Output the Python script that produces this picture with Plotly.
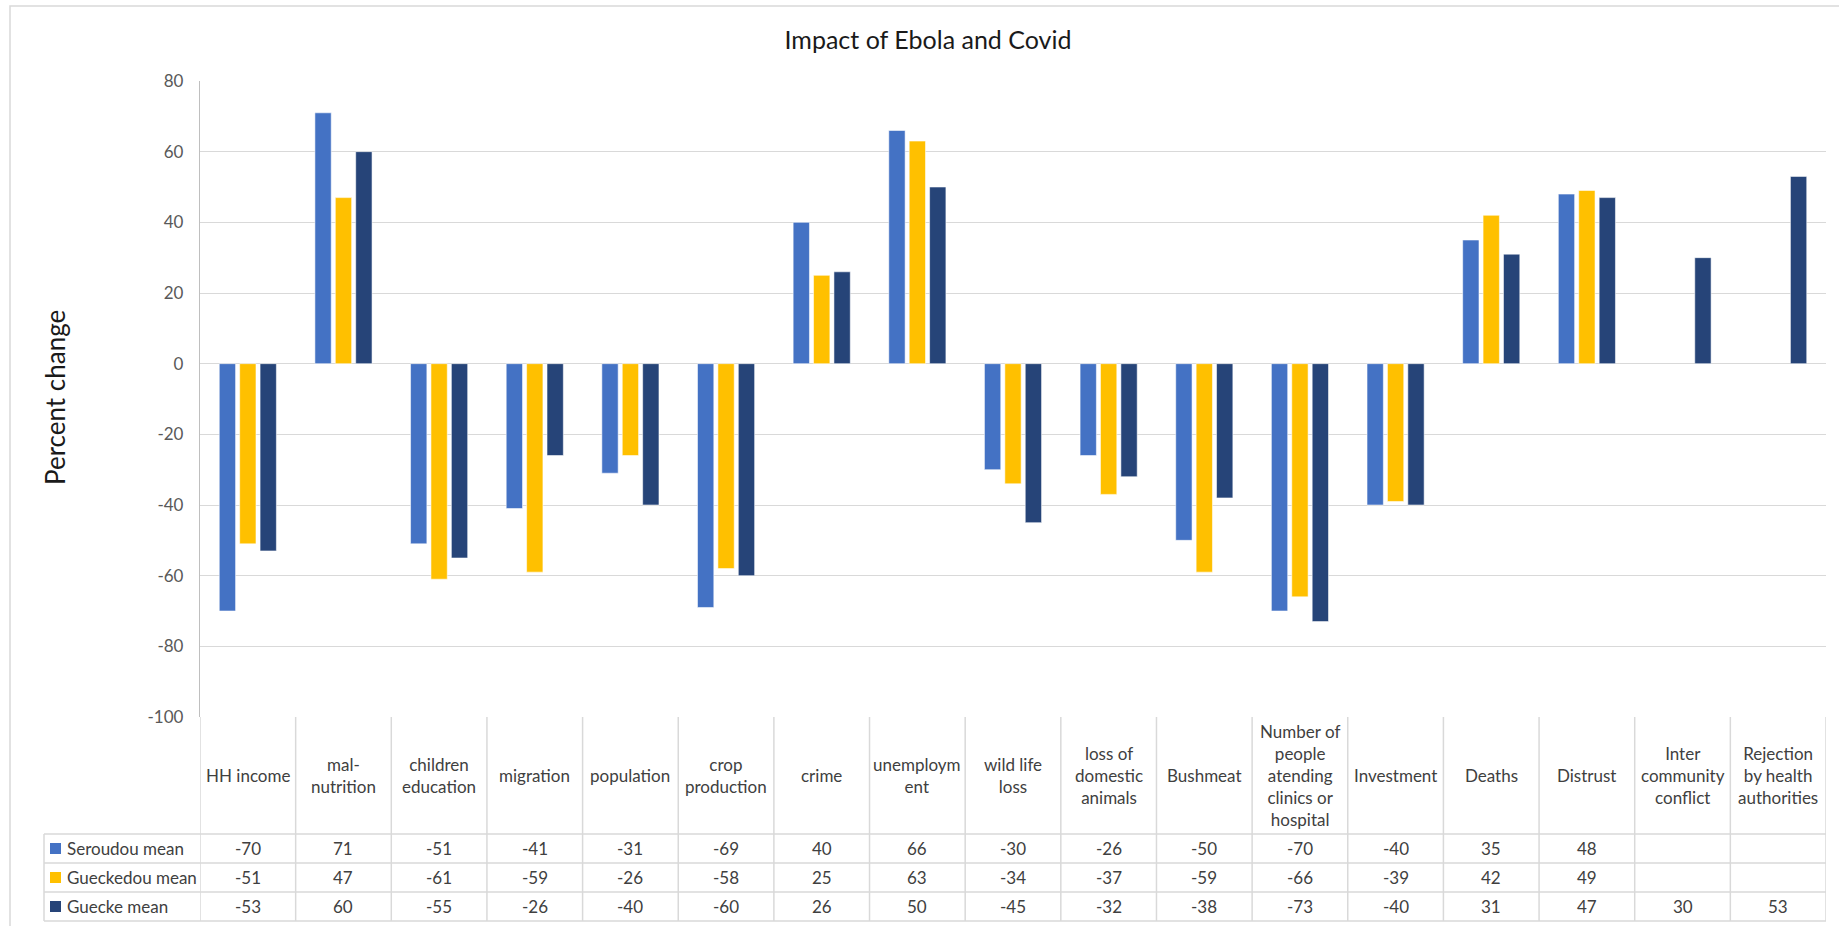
import plotly.graph_objects as go

# ---------------- data ----------------
categories = [
    "HH income", "mal-<br>nutrition", "children<br>education", "migration",
    "population", "crop<br>production", "crime", "unemploym<br>ent",
    "wild life<br>loss", "loss of<br>domestic<br>animals", "Bushmeat",
    "Number of<br>people<br>atending<br>clinics or<br>hospital", "Investment",
    "Deaths", "Distrust", "Inter<br>community<br>conflict",
    "Rejection<br>by health<br>authorities",
]
series_names = ["Seroudou mean", "Gueckedou mean", "Guecke mean"]
seroudou = [-70, 71, -51, -41, -31, -69, 40, 66, -30, -26, -50, -70, -40, 35, 48, None, None]
gueckedou = [-51, 47, -61, -59, -26, -58, 25, 63, -34, -37, -59, -66, -39, 42, 49, None, None]
guecke = [-53, 60, -55, -26, -40, -60, 26, 50, -45, -32, -38, -73, -40, 31, 47, 30, 53]
series_values = [seroudou, gueckedou, guecke]
series_colors = ["#4472C4", "#FFC000", "#264478"]
y_tickvals = [80, 60, 40, 20, 0, -20, -40, -60, -80, -100]
y_ticktext = ["80", "60", "40", "20", "0", "-20", "-40", "-60", "-80", "-100"]
title_text = "Impact of Ebola and Covid"
y_title = "Percent change"

# ---------------- layout geometry (pixels) ----------------
W, H = 1839, 926
PL, PR, PT, PB = 200, 1826, 81, 717          # plot area
TABLE_LEFT = 44
HEADER_BOTTOM = 834
ROW_LINES = [834, 863, 892, 921]
FONT = "Lato"
GRID = "#D9D9D9"
TXT = "#404040"


def px(X):
    return (X - PL) / (PR - PL)


def py(Y):
    return (PB - Y) / (PB - PT)


fig = go.Figure()
for name, vals, col in zip(series_names, series_values, series_colors):
    fig.add_trace(go.Bar(
        x=list(range(len(categories))), y=vals, name=name,
        marker=dict(color=col, line=dict(color="rgba(255,255,255,0.55)", width=1)),
        hoverinfo="y+name",
    ))

shapes = []
annotations = []
n = len(categories)

# vertical table lines at column boundaries
for i in range(n + 1):
    shapes.append(dict(type="line", xref="x", yref="paper", x0=i - 0.5, x1=i - 0.5,
                       y0=py(PB), y1=py(ROW_LINES[-1]), line=dict(color=GRID, width=1.5)))
# legend column left border
shapes.append(dict(type="line", xref="paper", yref="paper", x0=px(TABLE_LEFT), x1=px(TABLE_LEFT),
                   y0=py(HEADER_BOTTOM), y1=py(ROW_LINES[-1]), line=dict(color=GRID, width=1.5)))
# horizontal table lines
for Y in ROW_LINES:
    shapes.append(dict(type="line", xref="paper", yref="paper", x0=px(TABLE_LEFT), x1=1,
                       y0=py(Y), y1=py(Y), line=dict(color=GRID, width=1.5)))
# outer chart border
shapes.append(dict(type="rect", xref="paper", yref="paper", x0=px(10), x1=px(1846),
                   y0=py(940), y1=py(6), line=dict(color=GRID, width=1.5), fillcolor="rgba(0,0,0,0)",
                   layer="below"))

# header labels
for i, lab in enumerate(categories):
    annotations.append(dict(x=i, xref="x", y=py((PB + HEADER_BOTTOM) / 2), yref="paper",
                            text=lab, showarrow=False, xanchor="center", yanchor="middle",
                            font=dict(family=FONT, size=17, color=TXT)))

# data rows
for r, (name, vals, col) in enumerate(zip(series_names, series_values, series_colors)):
    yc = (ROW_LINES[r] + ROW_LINES[r + 1]) / 2
    shapes.append(dict(type="rect", xref="paper", yref="paper", x0=px(50), x1=px(61),
                       y0=py(yc + 5.5), y1=py(yc - 5.5), fillcolor=col, line=dict(width=0)))
    annotations.append(dict(x=px(65), xref="paper", y=py(yc), yref="paper", text=name,
                            showarrow=False, xanchor="left", yanchor="middle",
                            font=dict(family=FONT, size=17, color=TXT)))
    for i, v in enumerate(vals):
        if v is None:
            continue
        annotations.append(dict(x=i, xref="x", y=py(yc), yref="paper", text=str(int(round(v))),
                                showarrow=False, xanchor="center", yanchor="middle",
                                font=dict(family=FONT, size=17, color=TXT)))

# y-axis title
annotations.append(dict(x=px(55), xref="paper", y=py(398), yref="paper", text=y_title,
                        textangle=-90, showarrow=False, xanchor="center", yanchor="middle",
                        font=dict(family=FONT, size=26, color="#1a1a1a")))

fig.update_layout(
    width=W, height=H,
    margin=dict(l=PL, r=W - PR, t=PT, b=H - PB, autoexpand=False),
    paper_bgcolor="white", plot_bgcolor="white",
    barmode="group", bargap=0.36, bargroupgap=0.2,
    showlegend=False,
    title=dict(text=title_text, x=928 / W, xanchor="center", y=1 - 40 / H, yanchor="middle",
               font=dict(family=FONT, size=25, color="#1a1a1a")),
    xaxis=dict(range=[-0.5, n - 0.5], showticklabels=False, showgrid=False, zeroline=False,
               showline=False, fixedrange=True),
    yaxis=dict(range=[-100, 80], tickvals=y_tickvals, ticktext=y_ticktext, showgrid=True,
               gridcolor=GRID, gridwidth=1.3, zeroline=True, zerolinecolor=GRID, zerolinewidth=1.3,
               showline=True, linecolor="#BFBFBF", linewidth=1.3, ticks="",
               ticklabelstandoff=12,
               tickfont=dict(family=FONT, size=17, color="#595959")),
    shapes=shapes, annotations=annotations,
)

fig.write_html("out.html", config={"displayModeBar": False},
               post_script="document.body.style.margin='0';document.body.style.overflow='hidden';")
